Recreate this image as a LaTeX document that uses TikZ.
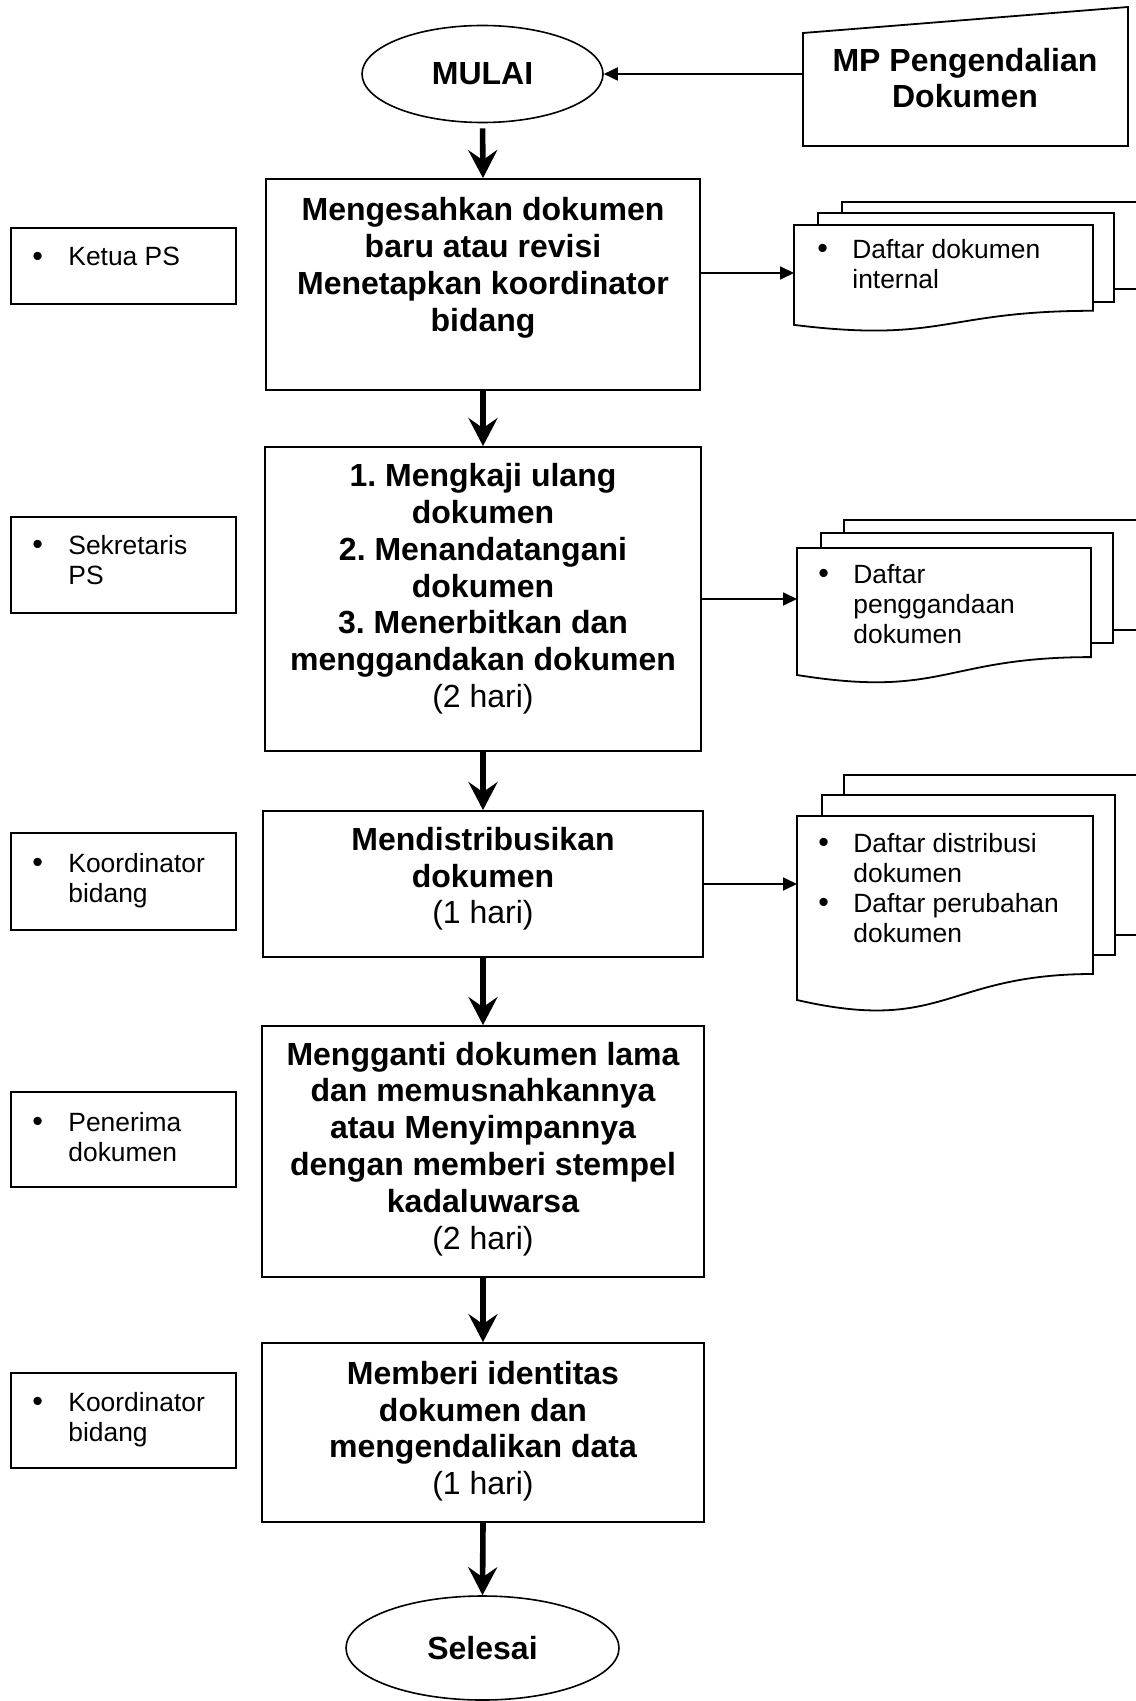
\documentclass[tikz,border=0pt]{standalone}
\usepackage{fontspec}
\usepackage{graphicx}
\setmainfont{Liberation Sans}
\usetikzlibrary{shapes.geometric,arrows.meta}
\newcommand{\bul}{\raisebox{-0.2pt}{\scalebox{1.15}{\textbullet}}}
\frenchspacing
\begin{document}
\begin{tikzpicture}[x=0.5pt,y=-0.5pt,
  stepbox/.style={draw,line width=0.9pt,rectangle,inner sep=0},
  rolebox/.style={draw,line width=0.9pt,rectangle,inner sep=0,minimum width=112.5pt},
  term/.style={draw,ellipse,line width=0.8pt,inner sep=0,font=\bfseries\fontsize{16}{18.4}\selectfont},
  maintext/.style={align=center,inner sep=0,font=\bfseries\fontsize{16}{18.4}\selectfont\frenchspacing,execute at begin node=\strut,execute at end node=\strut},
  smalltext/.style={inner sep=0,anchor=west,font=\fontsize{13.2}{15}\selectfont},
  flow/.style={line width=2.8pt,-{Stealth[length=14pt,width=14.5pt,inset=5pt]}},
  outarrow/.style={line width=0.9pt,-{Triangle[length=7pt,width=6.5pt]}},
  docline/.style={line width=0.9pt,line join=miter}
]
\useasboundingbox (0,0) rectangle (1135,1701);

% terminals
\node[term,minimum width=120.5pt,minimum height=48.5pt] (mulai) at (482.5,74) {MULAI};
\node[term,minimum width=136.5pt,minimum height=52pt] (selesai) at (482.5,1648) {Selesai};

% manual input
\draw[docline] (803,33) -- (1128,7) -- (1128,146) -- (803,146) -- cycle;
\node[maintext] (mp) at (965,83.5) {MP Pengendalian\\Dokumen};
\coordinate (mpin) at (803,74);

% process boxes
\node[stepbox,minimum width=217pt,minimum height=105.5pt] (b1) at (483,284.5) {};
\node[stepbox,minimum width=218pt,minimum height=152pt] (b2) at (483,599) {};
\node[stepbox,minimum width=220pt,minimum height=73pt] (b3) at (483,884) {};
\node[stepbox,minimum width=221pt,minimum height=125.5pt] (b4) at (483,1151.5) {};
\node[stepbox,minimum width=221pt,minimum height=89.5pt] (b5) at (483,1432.5) {};

\node[maintext] (t1) at (483,270) {Mengesahkan dokumen\\baru atau revisi\\Menetapkan koordinator\\bidang};
\node[maintext] (t2) at (483,591) {1. Mengkaji ulang\\dokumen\\2. Menandatangani\\dokumen\\3. Menerbitkan dan\\menggandakan dokumen\\{\mdseries (2 hari)}};
\node[maintext] (t3) at (483,881) {Mendistribusikan\\dokumen\\{\mdseries (1 hari)}};
\node[maintext] (t4) at (483,1151) {Mengganti dokumen lama\\dan memusnahkannya\\atau Menyimpannya\\dengan memberi stempel\\kadaluwarsa\\{\mdseries (2 hari)}};
\node[maintext] (t5) at (483,1433.5) {Memberi identitas\\dokumen dan\\mengendalikan data\\{\mdseries (1 hari)}};

% role boxes
\node[rolebox,minimum height=38pt] (r1) at (123.5,266) {};
\node[rolebox,minimum height=48pt] (r2) at (123.5,565) {};
\node[rolebox,minimum height=48.5pt] (r3) at (123.5,881.5) {};
\node[rolebox,minimum height=47.5pt] (r4) at (123.5,1139.5) {};
\node[rolebox,minimum height=47.5pt] (r5) at (123.5,1420.5) {};

\node[smalltext] (r1t) at (32,260) {\begin{tabular}{@{}p{18pt}@{}l@{}}\bul & Ketua PS\end{tabular}};
\node[smalltext] (r2t) at (32,563) {\begin{tabular}{@{}p{18pt}@{}l@{}}\bul & Sekretaris\\ & PS\end{tabular}};
\node[smalltext] (r3t) at (32,881) {\begin{tabular}{@{}p{18pt}@{}l@{}}\bul & Koordinator\\ & bidang\end{tabular}};
\node[smalltext] (r4t) at (32,1140) {\begin{tabular}{@{}p{18pt}@{}l@{}}\bul & Penerima\\ & dokumen\end{tabular}};
\node[smalltext] (r5t) at (32,1420) {\begin{tabular}{@{}p{18pt}@{}l@{}}\bul & Koordinator\\ & bidang\end{tabular}};

% document stacks
% doc 1
\draw[docline] (842,213) -- (842,202) -- (1140,202);
\draw[docline] (1114,289) -- (1140,289);
\draw[docline] (818,225) -- (818,213) -- (1114,213) -- (1114,302) -- (1093,302);
\draw[docline] (794,225) -- (1093,225) -- (1093,310.8) .. controls (943.5,310.8) and (943.5,343.4) .. (794,324.9) -- cycle;
\node[smalltext] (d1t) at (817,267.5) {\begin{tabular}{@{}p{17.5pt}@{}l@{}}\bul & Daftar dokumen\\ & internal\end{tabular}};
\coordinate (d1in) at (794,273);
% doc 2
\draw[docline] (844,533) -- (844,520) -- (1140,520);
\draw[docline] (1113,630) -- (1140,630);
\draw[docline] (821,548) -- (821,533) -- (1113,533) -- (1113,643) -- (1091,643);
\draw[docline] (797,548) -- (1091,548) -- (1091,657.1) .. controls (944,657.1) and (944,698.6) .. (797,675) -- cycle;
\node[smalltext] (d2t) at (818,607) {\begin{tabular}{@{}p{17.5pt}@{}l@{}}\bul & Daftar\\ & penggandaan\\ & dokumen\end{tabular}};
\coordinate (d2in) at (797,599);
% doc 3
\draw[docline] (844,795) -- (844,775) -- (1140,775);
\draw[docline] (1115,935) -- (1140,935);
\draw[docline] (822,816) -- (822,795) -- (1115,795) -- (1115,955) -- (1093,955);
\draw[docline] (797,816) -- (1093,816) -- (1093,974) .. controls (945,974) and (945,1034.1) .. (797,1000) -- cycle;
\node[smalltext] (d3t) at (818,891) {\begin{tabular}{@{}p{17.5pt}@{}l@{}}\bul & Daftar distribusi\\ & dokumen\\ \bul & Daftar perubahan\\ & dokumen\end{tabular}};
\coordinate (d3in) at (797,884);

% connectors
\draw[outarrow] (mpin) -- (mulai.east);
\draw[flow,shorten <=2.5pt] (mulai.south) -- (b1.north);
\draw[flow] (b1.south) -- (b2.north);
\draw[flow] (b2.south) -- (b3.north);
\draw[flow] (b3.south) -- (b4.north);
\draw[flow] (b4.south) -- (b5.north);
\draw[flow] (b5.south) -- (selesai.north);
\draw[outarrow] (b1.east |- d1in) -- (d1in);
\draw[outarrow] (b2.east) -- (d2in);
\draw[outarrow] (b3.east) -- (d3in);
\end{tikzpicture}
\end{document}
